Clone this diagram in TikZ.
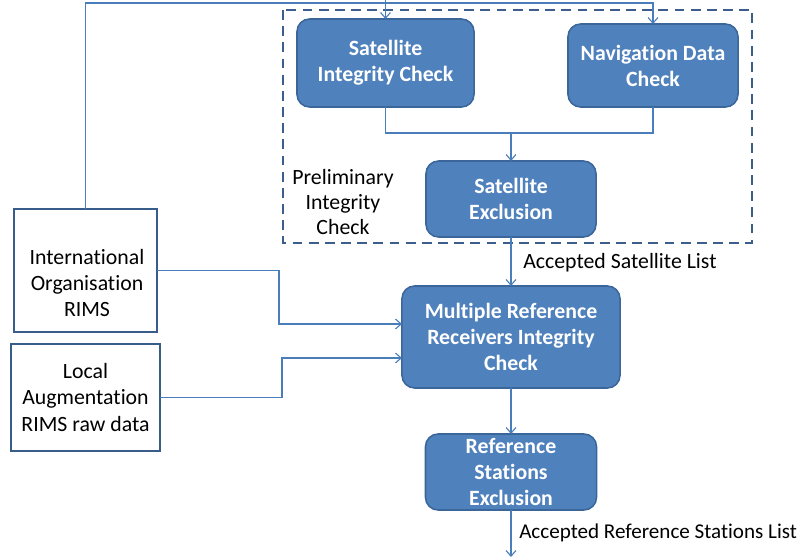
\documentclass[tikz,border=0pt]{standalone}
\usepackage{fontspec}
\setmainfont[Ligatures=NoCommon]{Carlito}
\usetikzlibrary{arrows.meta}
\definecolor{boxfill}{HTML}{4F81BD}
\definecolor{boxdraw}{HTML}{3A669A}
\definecolor{conn}{HTML}{4A7EBB}
\definecolor{dashc}{HTML}{3B5E8C}
\definecolor{leftdraw}{HTML}{385D8A}
\tikzset{
  px/.style={x=0.025cm,y=-0.025cm},
  bluebox/.style={draw=boxdraw, fill=boxfill, line width=1.1pt, rounded corners=9pt,
    text=white, font=\fontsize{15.5}{18.5}\selectfont\bfseries, align=center,
    inner sep=2pt, outer sep=0pt},
  whitebox/.style={draw=leftdraw, fill=white, line width=1.4pt,
    text=black, font=\fontsize{15.5}{18.5}\selectfont, align=center,
    inner sep=2pt, outer sep=0pt},
  conline/.style={draw=conn, line width=0.8pt},
  arr/.style={conline, -{Straight Barb[length=4pt,width=7pt,line width=0.8pt]}},
  lbl/.style={font=\fontsize{15.5}{18}\selectfont, text=black, inner sep=0pt},
}
\begin{document}
\begin{tikzpicture}[px]
\useasboundingbox (0,0) rectangle (804,560);
% dashed group
\draw[dashc, line width=1.6pt, dash pattern=on 7pt off 4.5pt] (283,10) rectangle (752,243);
\node[lbl, align=center] (prelim) at (343,202) {Preliminary\\Integrity\\Check};
% nodes
\node[bluebox, minimum width=4.425cm, minimum height=2.2cm] (satint) at (385.5,63) {Satellite\\Integrity Check};
\node[bluebox, minimum width=4.25cm, minimum height=2.075cm] (nav) at (653,65.5) {Navigation Data\\Check};
\node[bluebox, minimum width=4.25cm, minimum height=1.9cm] (satex) at (511,199) {Satellite\\Exclusion};
\node[bluebox, minimum width=5.45cm, minimum height=2.55cm] (multi) at (511,337) {Multiple Reference\\Receivers Integrity\\Check};
\node[bluebox, minimum width=4.275cm, minimum height=1.9cm] (rse) at (511,472) {Reference\\Stations\\Exclusion};
\node[whitebox, minimum width=3.575cm, minimum height=3.075cm] (intl) at (85.5,270.5) {};
\node[lbl, align=center, font=\fontsize{15.5}{18.5}\selectfont] (intltext) at (87,283) {International\\Organisation\\RIMS};
\node[whitebox, minimum width=3.725cm, minimum height=2.675cm] (local) at (85.5,397.5) {Local\\Augmentation\\RIMS raw data};
% coordinates
\coordinate (topline) at (0,3);
\coordinate (topend) at (0,0);
\coordinate (join) at (511,133);
\coordinate (bend1) at (279,0);
\coordinate (bend2) at (282,0);
\coordinate (in1) at (0,324);
\coordinate (in2) at (0,358);
\coordinate (outend) at (511,557);
% connectors
\draw[arr] (intl.north) -- (intl.north |- topline) -| (nav.north);
\draw[arr] (satint.north |- topend) -- (satint.north);
\draw[conline] (satint.south) |- (join);
\draw[conline] (nav.south) |- (join);
\draw[arr] (join) -- (satex.north);
\draw[arr] (satex.south) -- (multi.north);
\node[lbl, anchor=west] (asl) at (523,263) {Accepted Satellite List};
\draw[arr] (intl.east) -- (intl.east -| bend1) -- (bend1 |- in1) -- (multi.west |- in1);
\draw[arr] (local.east) -- (local.east -| bend2) -- (bend2 |- in2) -- (multi.west |- in2);
\draw[arr] (multi.south) -- (rse.north);
\draw[arr] (rse.south) -- (outend);
\node[lbl, anchor=west, font=\fontsize{15}{18}\selectfont] (arsl) at (519,533) {Accepted Reference Stations List};
\end{tikzpicture}
\end{document}
